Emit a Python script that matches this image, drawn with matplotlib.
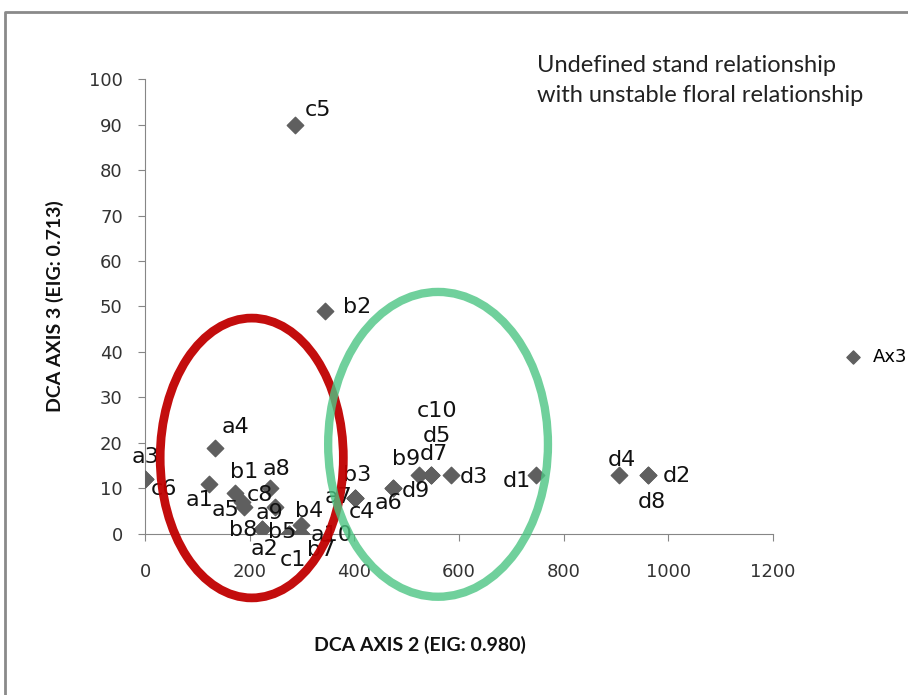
import matplotlib.pyplot as plt
from matplotlib.patches import Ellipse
from matplotlib.lines import Line2D

# Sample scores on DCA axes 2 and 3
names = ['a1', 'a2', 'a3', 'a4', 'a5', 'a6', 'a7', 'a8', 'a9', 'a10',
         'b1', 'b2', 'b3', 'b4', 'b5', 'b7', 'b8', 'b9',
         'c1', 'c4', 'c5', 'c6', 'c8', 'c10',
         'd1', 'd2', 'd3', 'd4', 'd5', 'd7', 'd8', 'd9']
axis2 = [122, 223, 0, 134, 190, 474, 401, 239, 248, 299,
         172, 344, 401, 299, 276, 299, 223, 524,
         276, 401, 286, 0, 185, 546,
         748, 961, 584, 906, 546, 546, 961, 474]
axis3 = [11, 1, 12, 19, 6, 10, 8, 10, 6, 0,
         9, 49, 8, 2, 0, 0, 1, 13,
         0, 8, 90, 12, 7, 13,
         13, 13, 13, 13, 13, 13, 13, 10]

# where each data label sits relative to its point (pixels, +y up)
label_dx = [-9, 3, 0, 20, -19, -5, -16, 6, -5, 30,
            9, 32, 2, 8, -7, 20, -19, -13,
            3, 7, 23, 19, 18, 6,
            -20, 29, 23, 3, 6, 3, 4, 23]
label_dy = [-16, -20, 22, 21, -3, -15, 1, 19, -6, -1,
            21, 4, 23, 14, 2, -16, -1, 16,
            -26, -14, 15, -10, 7, 64,
            -6, -1, -2, 15, 39, 21, -27, -3]

plt.rcParams['font.family'] = ['DejaVu Sans']

fig = plt.figure(figsize=(9.08, 6.95), dpi=100)
ax = fig.add_axes([0.1597, 0.2317, 0.6916, 0.6546])

ax.scatter(axis2, axis3, marker='D', s=70, color='#5f5f5f', zorder=3, label='Ax3')
for n, x, y, dx, dy in zip(names, axis2, axis3, label_dx, label_dy):
    ax.annotate(n, (x, y), xytext=(dx, dy), textcoords='offset pixels',
                ha='center', va='center', fontsize=16, color='#111111', zorder=4)

# group outlines
ax.add_patch(Ellipse((204, 16.7), 350, 61.5, fill=False, edgecolor='#C00000',
                     lw=6.3, alpha=0.95, clip_on=False, zorder=5))
ax.add_patch(Ellipse((560, 19.7), 420, 67, fill=False, edgecolor='#4CC583',
                     lw=6, alpha=0.8, clip_on=False, zorder=6))

ax.set_xlim(0, 1200)
ax.set_ylim(0, 100)
ax.set_xticks(range(0, 1201, 200))
ax.set_yticks(range(0, 101, 10))
for s in ['top', 'right']:
    ax.spines[s].set_visible(False)
for s in ['left', 'bottom']:
    ax.spines[s].set_color('#868686')
ax.tick_params(colors='#868686', labelcolor='#333333', labelsize=13, length=5)
ax.tick_params(axis='x', pad=16)
ax.tick_params(axis='y', pad=11)

fig.text(420 / 908, 1 - 645 / 695, 'DCA AXIS 2 (EIG: 0.980)', family='Lato',
         fontweight='bold', fontsize=14, ha='center', va='center', color='#111111')
fig.text(55 / 908, 1 - 306 / 695, 'DCA AXIS 3 (EIG: 0.713)', family='Lato',
         fontweight='bold', fontsize=14, ha='center', va='center', rotation=90,
         color='#111111')

fig.text(537 / 908, 1 - 65 / 695, 'Undefined stand relationship', family='Lato',
         fontsize=17, color='#222222', va='center')
fig.text(537 / 908, 1 - 95 / 695, 'with unstable floral relationship', family='Lato',
         fontsize=17, color='#222222', va='center')

fig.legend(loc='center left', bbox_to_anchor=(828 / 908, 1 - 357 / 695), frameon=False,
           handletextpad=0.1, fontsize=13, borderaxespad=0, markerscale=0.8)

# chart frame (cut off at right and bottom)
fig.add_artist(Line2D([5 / 908, 5 / 908, 1], [0, 1 - 12 / 695, 1 - 12 / 695],
                      transform=fig.transFigure, color='#8a8a8a', lw=2))

fig.savefig('out.png', dpi=100)
